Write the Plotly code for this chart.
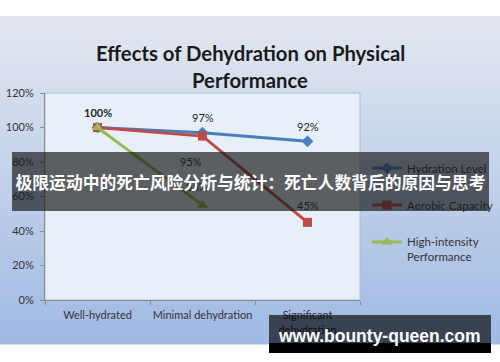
import plotly.graph_objects as go

# ---- data ----
categories = ["Well-hydrated", "Minimal dehydration", "Significant<br>dehydration"]
hydration = [100, 97, 92]
aerobic = [100, 95, 45]
high_intensity = [100, 55, None]
series_names = ["Hydration Level", "Aerobic Capacity", "High-intensity<br>Performance"]
y_ticks = [0, 20, 40, 60, 80, 100, 120]
title_lines = ["Effects of Dehydration on Physical", "Performance"]
banner_text = "极限运动中的死亡风险分析与统计：死亡人数背后的原因与思考"
watermark_text = "www.bounty-queen.com"

# ---- geometry (pixels) ----
W, H = 500, 362
L, R, T, B = 45, 140, 93, 62
PW, PH = W - L - R, H - T - B


def px(x):
    return (x - L) / PW


def py(y):
    return (H - B - y) / PH


BLUE = "#4A7EBB"
RED = "#BE4B48"
GREEN = "#98B954"
TXT = "#333333"
FONT = "Lato"

fig = go.Figure()
fig.add_trace(go.Scatter(x=categories, y=hydration, name=series_names[0], mode="lines+markers",
                         line=dict(color=BLUE, width=3), marker=dict(symbol="diamond", size=9, color=BLUE),
                         legendgroup="a"))
fig.add_trace(go.Scatter(x=categories, y=aerobic, name=series_names[1], mode="lines+markers",
                         line=dict(color=RED, width=3), marker=dict(symbol="square", size=9, color=RED),
                         legendgroup="b"))
fig.add_trace(go.Scatter(x=categories, y=high_intensity, name=series_names[2], mode="lines+markers",
                         line=dict(color=GREEN, width=3), marker=dict(symbol="triangle-up", size=10, color=GREEN),
                         legendgroup="c"))

shapes = []
# background gradient
top_c = (228, 232, 240)
bot_c = (160, 186, 228)
y_start, y_end = 16, 344
n = 41
step = (y_end - y_start) / n
for i in range(n):
    t = (i + 0.5) / n
    c = tuple(int(round(top_c[k] + (bot_c[k] - top_c[k]) * t)) for k in range(3))
    shapes.append(dict(type="rect", xref="paper", yref="paper", layer="below",
                       x0=px(0), x1=px(W), y0=py(y_start + i * step), y1=py(y_start + (i + 1) * step + 0.6),
                       fillcolor="rgb(%d,%d,%d)" % c, line=dict(width=0)))
# plot area
shapes.append(dict(type="rect", xref="paper", yref="paper", layer="below", x0=0, x1=1, y0=0, y1=1,
                   fillcolor="#e7f0f9", line=dict(color="#a9bcd6", width=1)))

annotations = []
# title
annotations.append(dict(text="<b>%s</b>" % title_lines[0], xref="paper", yref="paper", x=px(250), y=py(39),
                        showarrow=False, font=dict(family=FONT, size=20.3, color="#1a1a1a")))
annotations.append(dict(text="<b>%s</b>" % title_lines[1], xref="paper", yref="paper", x=px(250), y=py(66),
                        showarrow=False, font=dict(family=FONT, size=20.3, color="#1a1a1a")))

lab_font = dict(family=FONT, size=11, color="#262626")
# blue labels above
for i, v in enumerate(hydration):
    t = "%d%%" % v
    if i == 0:
        t = "<b>%s</b>" % t
    annotations.append(dict(text=t, x=categories[i], y=v, xref="x", yref="y", showarrow=False,
                            yshift=15, font=lab_font))
# red labels
annotations.append(dict(text="%d%%" % aerobic[1], x=categories[1], y=aerobic[1], xref="x", yref="y",
                        showarrow=False, xshift=-12, yshift=-25, font=lab_font))
annotations.append(dict(text="%d%%" % aerobic[2], x=categories[2], y=aerobic[2], xref="x", yref="y",
                        showarrow=False, yshift=17, font=lab_font))
# green label
annotations.append(dict(text="%d%%" % high_intensity[1], x=categories[1], y=high_intensity[1], xref="x", yref="y",
                        showarrow=False, xshift=-6, yshift=19, font=lab_font))

# banner overlay
annotations.append(dict(text="<b>%s</b>" % banner_text, xref="paper", yref="paper",
                        x=px(250.5), y=py(181.5), xanchor="center", yanchor="middle",
                        width=477, height=59, bgcolor="rgba(20,20,20,0.66)", borderpad=0, borderwidth=0,
                        showarrow=False, font=dict(family="Noto Sans CJK SC", size=16.8, color="white")))
# watermark
annotations.append(dict(text="", xref="paper", yref="paper", x=px(380), y=py(329), xanchor="center",
                        yanchor="middle", width=222, height=28, bgcolor="rgba(0,0,0,0.65)", borderpad=0,
                        borderwidth=0, showarrow=False))
annotations.append(dict(text="", xref="paper", yref="paper", x=px(380), y=py(348), xanchor="center",
                        yanchor="middle", width=222, height=10, bgcolor="rgb(0,0,0)", borderpad=0,
                        borderwidth=0, showarrow=False))
annotations.append(dict(text="<b>%s</b>" % watermark_text, xref="paper", yref="paper", x=px(379), y=py(336),
                        xanchor="center", yanchor="middle", showarrow=False,
                        font=dict(family="Liberation Sans", size=17.5, color="white")))

fig.update_layout(
    width=W, height=H, autosize=False,
    margin=dict(l=L, r=R, t=T, b=B, pad=0, autoexpand=False),
    paper_bgcolor="white", plot_bgcolor="rgba(0,0,0,0)",
    shapes=shapes, annotations=annotations,
    font=dict(family=FONT, size=11, color=TXT),
    showlegend=True,
    legend=dict(x=px(367), y=py(154), xanchor="left", yanchor="top", bgcolor="rgba(0,0,0,0)",
                font=dict(family=FONT, size=11.5, color=TXT), tracegroupgap=18, valign="top",
                itemwidth=30),
    xaxis=dict(type="category", showgrid=False, zeroline=False, showline=True, linecolor="#8c8c8c",
               linewidth=1, ticks="outside", ticklen=4, tickcolor="#8c8c8c", tickson="boundaries",
               tickangle=0, automargin=False, ticklabelstandoff=5,
               tickfont=dict(family=FONT, size=11, color=TXT), range=[-0.5, 2.5]),
    yaxis=dict(range=[0, 120], tickvals=y_ticks, ticktext=["%d%%" % v for v in y_ticks], showgrid=False,
               zeroline=False, showline=True, linecolor="#8c8c8c", linewidth=1, ticks="outside", ticklen=4,
               automargin=False, ticklabelstandoff=4,
               tickcolor="#8c8c8c", tickfont=dict(family=FONT, size=11, color=TXT)),
)

fig.write_html("out.html", config={"displayModeBar": False},
               post_script="document.body.style.margin='0px';document.body.style.padding='0px';")
